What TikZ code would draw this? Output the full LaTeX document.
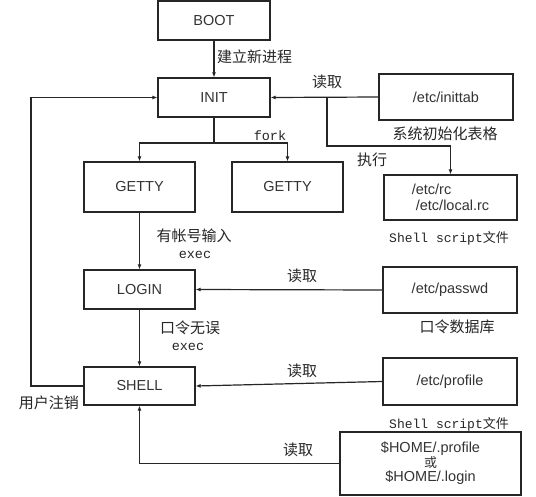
\documentclass[tikz,border=0pt]{standalone}
\usepackage{fontspec}
\setmainfont{Liberation Sans}
\newfontfamily\cjk{Noto Sans CJK SC}
\newfontfamily\mono{Liberation Mono}
\usetikzlibrary{arrows.meta}
\begin{document}
\begin{tikzpicture}[x=1pt,y=-1pt,
  ink/.style={draw=black!85, line width=1.2pt},
  boxnode/.style={ink, rectangle, inner sep=1pt, text=black!80, font=\fontsize{14.5}{16.5}\selectfont},
  conn/.style={ink, -{Latex[length=5pt,width=4pt]}},
  line/.style={ink},
  cn/.style={font=\cjk\fontsize{15}{17}\selectfont, text=black!85, inner sep=0pt},
  mn/.style={font=\mono\fontsize{13.5}{15}\selectfont, text=black!85, inner sep=0pt},
  scr/.style={font=\fontsize{13}{15}\selectfont, text=black!85, inner sep=0pt}
]
\useasboundingbox (0,0) rectangle (536,496);
\fill[white] (0,0) rectangle (536,496);

\node[boxnode, minimum width=112pt, minimum height=39pt] (boot) at (214,20.5) {BOOT};
\node[boxnode, minimum width=112pt, minimum height=39pt] (init) at (214,97.5) {INIT};
\node[boxnode, minimum width=134pt, minimum height=46pt] (inittab) at (446,97) {/etc/inittab};
\node[boxnode, minimum width=133pt, minimum height=45pt, align=left] (rc) at (450.5,197.5) {/etc/rc\\[-1pt]\ /etc/local.rc};
\node[boxnode, minimum width=111pt, minimum height=50pt] (getty1) at (139.5,187) {GETTY};
\node[boxnode, minimum width=111pt, minimum height=50pt] (getty2) at (287.5,187) {GETTY};
\node[boxnode, minimum width=111pt, minimum height=39pt] (login) at (139.5,289.5) {LOGIN};
\node[boxnode, minimum width=134pt, minimum height=46pt] (passwd) at (450,290) {/etc/passwd};
\node[boxnode, minimum width=111pt, minimum height=38pt] (shell) at (139.5,386) {SHELL};
\node[boxnode, minimum width=134pt, minimum height=47pt] (profile) at (450,381.5) {/etc/profile};
\node[boxnode, minimum width=181pt, minimum height=63pt, align=center] (home) at (430.5,463.5)
  {\$HOME/.profile\\[-2pt]{\cjk\fontsize{13}{15}\selectfont 或}\\[-2pt]\$HOME/.login};

% labels
\node[cn, anchor=west] (l1) at (217,57) {建立新进程};
\node[cn] (l2) at (327,82) {读取};
\node[cn] (l3) at (445,134) {系统初始化表格};
\node[cn] (l4) at (372,160) {执行};
\node[mn] (l5) at (270,136) {fork};
\node[scr, anchor=west] (l6) at (389,238) {{\mono Shell script}{\cjk 文件}};
\node[cn] (l7) at (194,236) {有帐号输入};
\node[mn] (l8) at (195,255) {exec};
\node[cn] (l9) at (302,276) {读取};
\node[cn] (l10) at (457,327) {口令数据库};
\node[cn] (l11) at (190,328) {口令无误};
\node[mn] (l12) at (188,347) {exec};
\node[cn] (l13) at (302,371) {读取};
\node[scr, anchor=west] (l14) at (389,424) {{\mono Shell script}{\cjk 文件}};
\node[cn] (l15) at (298,450) {读取};
\node[cn] (l16) at (49,403) {用户注销};

% connectors
\draw[conn] (boot.south) -- (init.north);
\draw[conn] (inittab.west) -- (init.east);
\coordinate (br) at (327,97);
\coordinate (br2) at (327,146);
\draw[conn] (br) -- (br2) -| (rc.north);
\coordinate (fk) at (214,143);
\draw[line] (init.south) -- (fk);
\draw[conn] (fk) -| (getty1.north);
\draw[conn] (fk) -| (getty2.north);
\draw[conn] (getty1.south) -- (login.north);
\draw[conn] (passwd.west) -- (login.east);
\draw[conn] (login.south) -- (shell.north);
\draw[conn] (profile.west) -- (shell.east);
\draw[conn] (home.west) -| (shell.south);
\coordinate (lo) at (31,386);
\draw[conn] (shell.west) -- (lo) |- (init.west);
\end{tikzpicture}
\end{document}
